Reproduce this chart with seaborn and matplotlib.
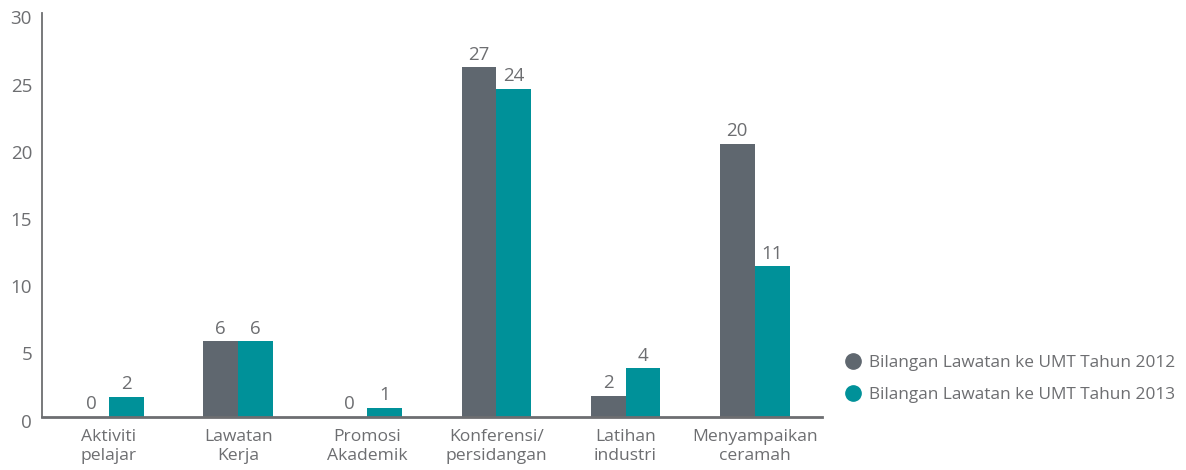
import pandas as pd
import matplotlib
matplotlib.use('Agg')
import matplotlib.pyplot as plt
import matplotlib.transforms as mtransforms
from matplotlib.lines import Line2D
import seaborn as sns

# ── Data ──────────────────────────────────────────────────────────────────────
categories = ['Aktiviti\npelajar', 'Lawatan\nKerja', 'Promosi\nAkademik',
              'Konferensi/\npersidangan', 'Latihan\nindustri', 'Menyampaikan\nceramah']
series     = ['Bilangan Lawatan ke UMT Tahun 2012', 'Bilangan Lawatan ke UMT Tahun 2013']
# bar heights as drawn in the picture
heights_2012 = [0, 5.6, 0, 26.0, 1.55, 20.3]
heights_2013 = [1.5, 5.6, 0.68, 24.4, 3.6, 11.2]
# printed value labels
labels_2012 = ['0', '6', '0', '27', '2', '20']
labels_2013 = ['2', '6', '1', '24', '4', '11']
yticks = [0, 5, 10, 15, 20, 25, 30]

GREY  = '#5f676f'
TEAL  = '#009199'
TEXT  = '#6d6e71'

df = pd.DataFrame({
    'kategori': categories * 2,
    'tahun'   : [series[0]] * 6 + [series[1]] * 6,
    'nilai'   : heights_2012 + heights_2013,
})

# ── Style ─────────────────────────────────────────────────────────────────────
sns.set_style('white')
plt.rcParams['font.family'] = ['Open Sans', 'DejaVu Sans']
plt.rcParams['font.size'] = 12.5

fig = plt.figure(figsize=(11.86, 4.70), dpi=100)
ax = fig.add_axes([0.0352, 0.1134, 0.6578, 0.8583])

sns.barplot(data=df, x='kategori', y='nilai', hue='tahun', order=categories,
            hue_order=series, palette=[GREY, TEAL], width=0.54, gap=0,
            saturation=1, ax=ax, legend=False, errorbar=None,
            linewidth=0, edgecolor='none')

for cont, labs in zip(ax.containers, [labels_2012, labels_2013]):
    ax.bar_label(cont, labels=labs, padding=2.5, fontsize=13.5, color=TEXT)

ax.set_xlim(-0.52, 5.52)
ax.set_ylim(0, 30)
ax.set_yticks(yticks)
ax.set_xlabel('')
ax.set_ylabel('')
ax.tick_params(axis='both', length=0, colors=TEXT)
ax.tick_params(axis='y', pad=7, labelsize=13.5)
ax.tick_params(axis='x', pad=8.5, labelsize=12.6)
for lab in ax.get_xticklabels():
    lab.set_linespacing(1.25)
# y labels sit a little below their gridline in the original
shift = mtransforms.ScaledTranslation(0, -4 / 100, fig.dpi_scale_trans)
for lab in ax.get_yticklabels():
    lab.set_transform(lab.get_transform() + shift)

for side in ['top', 'right']:
    ax.spines[side].set_visible(False)
ax.spines['left'].set_color(TEXT)
ax.spines['left'].set_linewidth(1.3)
ax.spines['bottom'].set_color(TEXT)
ax.spines['bottom'].set_linewidth(2)

handles = [Line2D([], [], marker='o', linestyle='', markersize=11,
                  markerfacecolor=c, markeredgecolor=c) for c in [GREY, TEAL]]
leg = ax.legend(handles, series, loc='center left', bbox_to_anchor=(0.712, 0.194),
                bbox_transform=fig.transFigure, frameon=False, fontsize=12.4,
                handlelength=1.0, handletextpad=0.4, labelspacing=0.9,
                borderpad=0, borderaxespad=0)
for t in leg.get_texts():
    t.set_color(TEXT)

plt.savefig('out.png', dpi=100)
plt.close()
